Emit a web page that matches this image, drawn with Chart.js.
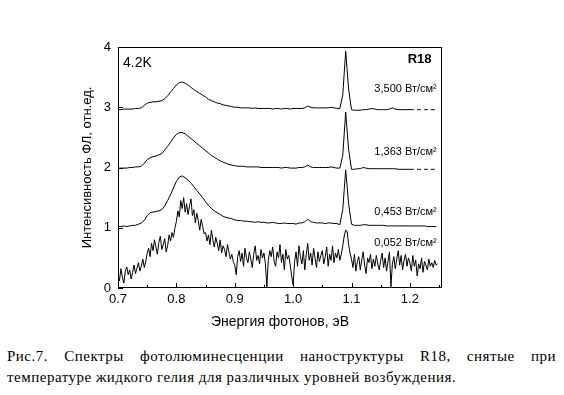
<!DOCTYPE html>
<html>
<head>
<meta charset="utf-8">
<script src="https://cdn.jsdelivr.net/npm/chart.js@4.4.1/dist/chart.umd.min.js"></script>
<style>
  body { margin: 0; background: #fff; width: 564px; height: 395px; position: relative; overflow: hidden; }
  #wrap { position: absolute; left: 0; top: 0; width: 564px; height: 340px; }
  #caption {
    position: absolute; left: 7px; top: 346px; width: 549px;
    font-family: "Liberation Serif", "Times New Roman", serif; font-size: 15px; line-height: 21px;
    text-align: justify; text-align-last: left; color: #000; letter-spacing: 0.5px;
  }
</style>
</head>
<body>
<div id="wrap"><canvas id="plChart" width="564" height="340"></canvas></div>
<div id="caption">Рис.7. Спектры фотолюминесценции наноструктуры R18, снятые при температуре жидкого гелия для различных уровней возбуждения.</div>
<script>
// Photoluminescence spectra, 4.2K, sample R18
// photon energy, eV (smooth spectra)
const energy = [
  0.700, 0.705, 0.710, 0.715, 0.720, 0.725, 0.730, 0.735, 0.740, 0.745,
  0.750, 0.755, 0.760, 0.765, 0.770, 0.775, 0.780, 0.785, 0.790, 0.795,
  0.800, 0.805, 0.810, 0.815, 0.820, 0.825, 0.830, 0.835, 0.840, 0.845,
  0.850, 0.855, 0.860, 0.865, 0.870, 0.875, 0.880, 0.885, 0.890, 0.895,
  0.900, 0.905, 0.910, 0.915, 0.920, 0.925, 0.930, 0.935, 0.940, 0.945,
  0.950, 0.955, 0.960, 0.965, 0.970, 0.975, 0.980, 0.985, 0.990, 0.995,
  1.000, 1.005, 1.010, 1.015, 1.020, 1.025, 1.030, 1.035, 1.040, 1.045,
  1.050, 1.055, 1.060, 1.065, 1.070, 1.075, 1.080, 1.085, 1.090, 1.095,
  1.100, 1.105, 1.110, 1.115, 1.120, 1.125, 1.130, 1.135, 1.140, 1.145,
  1.150, 1.155, 1.160, 1.165, 1.170, 1.175, 1.180, 1.185, 1.190, 1.195,
  1.200, 1.205, 1.210, 1.215, 1.220, 1.225, 1.230, 1.235, 1.240, 1.245
];

// photon energy, eV (finer step for the weakest, noisy spectrum)
const energyFine = [
  0.7000, 0.7025, 0.7050, 0.7075, 0.7100, 0.7125, 0.7150, 0.7175, 0.7200, 0.7225, 0.7250, 0.7275, 0.7300, 0.7325, 0.7350, 0.7375, 0.7400, 0.7425, 0.7450, 0.7475,
  0.7500, 0.7525, 0.7550, 0.7575, 0.7600, 0.7625, 0.7650, 0.7675, 0.7700, 0.7725, 0.7750, 0.7775, 0.7800, 0.7825, 0.7850, 0.7875, 0.7900, 0.7925, 0.7950, 0.7975,
  0.8000, 0.8025, 0.8050, 0.8075, 0.8100, 0.8125, 0.8150, 0.8175, 0.8200, 0.8225, 0.8250, 0.8275, 0.8300, 0.8325, 0.8350, 0.8375, 0.8400, 0.8425, 0.8450, 0.8475,
  0.8500, 0.8525, 0.8550, 0.8575, 0.8600, 0.8625, 0.8650, 0.8675, 0.8700, 0.8725, 0.8750, 0.8775, 0.8800, 0.8825, 0.8850, 0.8875, 0.8900, 0.8925, 0.8950, 0.8975,
  0.9000, 0.9025, 0.9050, 0.9075, 0.9100, 0.9125, 0.9150, 0.9175, 0.9200, 0.9225, 0.9250, 0.9275, 0.9300, 0.9325, 0.9350, 0.9375, 0.9400, 0.9425, 0.9450, 0.9475,
  0.9500, 0.9525, 0.9550, 0.9575, 0.9600, 0.9625, 0.9650, 0.9675, 0.9700, 0.9725, 0.9750, 0.9775, 0.9800, 0.9825, 0.9850, 0.9875, 0.9900, 0.9925, 0.9950, 0.9975,
  1.0000, 1.0025, 1.0050, 1.0075, 1.0100, 1.0125, 1.0150, 1.0175, 1.0200, 1.0225, 1.0250, 1.0275, 1.0300, 1.0325, 1.0350, 1.0375, 1.0400, 1.0425, 1.0450, 1.0475,
  1.0500, 1.0525, 1.0550, 1.0575, 1.0600, 1.0625, 1.0650, 1.0675, 1.0700, 1.0725, 1.0750, 1.0775, 1.0800, 1.0825, 1.0850, 1.0875, 1.0900, 1.0925, 1.0950, 1.0975,
  1.1000, 1.1025, 1.1050, 1.1075, 1.1100, 1.1125, 1.1150, 1.1175, 1.1200, 1.1225, 1.1250, 1.1275, 1.1300, 1.1325, 1.1350, 1.1375, 1.1400, 1.1425, 1.1450, 1.1475,
  1.1500, 1.1525, 1.1550, 1.1575, 1.1600, 1.1625, 1.1650, 1.1675, 1.1700, 1.1725, 1.1750, 1.1775, 1.1800, 1.1825, 1.1850, 1.1875, 1.1900, 1.1925, 1.1950, 1.1975,
  1.2000, 1.2025, 1.2050, 1.2075, 1.2100, 1.2125, 1.2150, 1.2175, 1.2200, 1.2225, 1.2250, 1.2275, 1.2300, 1.2325, 1.2350, 1.2375, 1.2400, 1.2425, 1.2450, 1.2475
];

// intensity (offset), 3,500 W/cm2
const pl3500 = [
  2.96, 2.96, 2.97, 2.97, 2.97, 2.97, 2.98, 2.98, 2.99, 3.03,
  3.07, 3.08, 3.09, 3.09, 3.10, 3.11, 3.14, 3.19, 3.25, 3.31,
  3.37, 3.41, 3.42, 3.40, 3.37, 3.33, 3.29, 3.26, 3.23, 3.20,
  3.17, 3.13, 3.11, 3.09, 3.07, 3.06, 3.04, 3.03, 3.02, 3.01,
  3.00, 3.00, 2.99, 2.99, 2.99, 2.99, 2.98, 2.99, 2.98, 2.98,
  2.98, 2.98, 2.98, 2.97, 2.98, 2.98, 2.97, 2.98, 2.98, 2.97,
  2.98, 2.98, 2.98, 2.98, 2.99, 3.02, 3.00, 2.99, 2.99, 2.99,
  2.99, 2.99, 2.99, 3.00, 2.99, 2.98, 2.98, 3.20, 3.93, 3.30,
  2.96, 2.95, 2.95, 2.95, 2.96, 2.96, 2.97, 2.98, 2.97, 2.96,
  2.96, 2.96, 2.96, 2.97, 2.99, 2.97, 2.96, 2.96, 2.96, 2.96,
  2.96, 2.96, 2.96, 2.96, 2.96, 2.96, 2.96, 2.96, 2.96, 2.96
];

// 1,363 W/cm2
const pl1363 = [
  1.99, 1.99, 1.99, 1.99, 2.00, 2.00, 2.01, 2.01, 2.02, 2.07,
  2.13, 2.16, 2.18, 2.19, 2.21, 2.23, 2.29, 2.35, 2.42, 2.49,
  2.55, 2.58, 2.58, 2.56, 2.52, 2.48, 2.44, 2.40, 2.36, 2.32,
  2.28, 2.24, 2.20, 2.17, 2.14, 2.11, 2.09, 2.07, 2.05, 2.04,
  2.03, 2.02, 2.02, 2.02, 2.01, 2.01, 2.01, 2.01, 2.01, 2.00,
  2.00, 2.00, 2.00, 2.00, 2.00, 2.00, 1.99, 2.00, 2.00, 1.99,
  1.99, 1.99, 2.00, 2.00, 2.01, 2.04, 2.01, 2.00, 2.00, 2.00,
  2.00, 2.00, 2.00, 2.01, 2.00, 1.99, 1.99, 2.20, 2.92, 2.30,
  1.97, 1.97, 1.98, 1.98, 2.00, 1.99, 1.98, 1.98, 1.98, 1.98,
  1.98, 1.98, 1.98, 1.98, 1.98, 1.98, 1.97, 1.97, 1.97, 1.97,
  1.97, 1.97, 1.97, 1.97, 1.97, 1.97, 1.97, 1.97, 1.97, 1.97
];

// 0,453 W/cm2
const pl453 = [
  1.02, 1.02, 1.03, 1.02, 1.03, 1.04, 1.04, 1.06, 1.08, 1.12,
  1.20, 1.25, 1.26, 1.27, 1.28, 1.30, 1.36, 1.45, 1.55, 1.66,
  1.77, 1.84, 1.86, 1.83, 1.79, 1.74, 1.68, 1.62, 1.56, 1.50,
  1.43, 1.37, 1.32, 1.28, 1.25, 1.22, 1.19, 1.17, 1.16, 1.15,
  1.13, 1.12, 1.12, 1.11, 1.11, 1.10, 1.10, 1.09, 1.10, 1.09,
  1.09, 1.08, 1.08, 1.09, 1.08, 1.07, 1.07, 1.08, 1.07, 1.07,
  1.07, 1.06, 1.08, 1.08, 1.10, 1.14, 1.10, 1.09, 1.08, 1.08,
  1.08, 1.07, 1.08, 1.08, 1.07, 1.07, 1.05, 1.30, 1.96, 1.40,
  1.06, 1.04, 1.04, 1.04, 1.05, 1.05, 1.04, 1.04, 1.04, 1.04,
  1.04, 1.04, 1.03, 1.03, 1.03, 1.03, 1.03, 1.03, 1.03, 1.03,
  1.03, 1.03, 1.03, 1.03, 1.03, 1.03, 1.02, 1.02, 1.02, 1.02
];

// 0,052 W/cm2 (noisy, on energyFine)
const pl052 = [
  0.20, 0.12, 0.32, 0.18, 0.08, 0.28, 0.35, 0.22, 0.30, 0.15, 0.26, 0.38, 0.24, 0.33, 0.42, 0.28, 0.36, 0.48, 0.34, 0.44,
  0.58, 0.66, 0.52, 0.74, 0.62, 0.80, 0.68, 0.56, 0.76, 0.86, 0.64, 0.72, 0.82, 0.60, 0.70, 0.88, 0.78, 0.92, 0.84, 1.00,
  1.10, 1.28, 1.18, 1.45, 1.32, 1.50, 1.26, 1.40, 1.22, 1.36, 1.48, 1.20, 1.30, 1.08, 1.24, 1.12, 0.96, 1.14, 1.02, 0.90,
  0.92, 0.78, 0.88, 0.72, 0.96, 0.80, 0.68, 0.84, 0.74, 0.62, 0.80, 0.58, 0.70, 0.64, 0.52, 0.72, 0.60, 0.48, 0.56, 0.44,
  0.38, 0.22, 0.52, 0.62, 0.44, 0.58, 0.36, 0.66, 0.50, 0.42, 0.60, 0.48, 0.34, 0.56, 0.70, 0.46, 0.54, 0.40, 0.64, 0.50,
  0.58, 0.40, 0.02, 0.46, 0.62, 0.52, 0.68, 0.44, 0.36, 0.60, 0.50, 0.72, 0.42, 0.56, 0.30, 0.64, 0.48, 0.54, 0.38, 0.20,
  0.05, 0.44, 0.60, 0.36, 0.70, 0.52, 0.40, 0.62, 0.30, 0.56, 0.74, 0.46, 0.58, 0.38, 0.66, 0.50, 0.34, 0.60, 0.44, 0.54,
  0.62, 0.40, 0.52, 0.68, 0.36, 0.56, 0.46, 0.70, 0.42, 0.58, 0.50, 0.64, 0.46, 0.56, 0.70, 0.86, 0.96, 0.94, 0.72, 0.58,
  0.48, 0.34, 0.56, 0.28, 0.44, 0.52, 0.30, 0.46, 0.60, 0.38, 0.24, 0.50, 0.42, 0.56, 0.32, 0.48, 0.36, 0.54, 0.40, 0.30,
  0.46, 0.58, 0.34, 0.50, 0.28, 0.44, 0.60, 0.02, 0.40, 0.52, 0.32, 0.48, 0.62, 0.38, 0.54, 0.30, 0.46, 0.56, 0.36, 0.50,
  0.42, 0.28, 0.54, 0.36, 0.46, 0.20, 0.40, 0.32, 0.50, 0.26, 0.44, 0.38, 0.30, 0.48, 0.36, 0.42, 0.34, 0.46, 0.38, 0.40
];

const powerLabels = ['3,500 Вт/см²', '1,363 Вт/см²', '0,453 Вт/см²', '0,052 Вт/см²'];
const xTicks = [0.7, 0.8, 0.9, 1.0, 1.1, 1.2];
const xMinorTicks = [0.75, 0.85, 0.95, 1.05, 1.15, 1.25];
const yTicks = [0, 1, 2, 3, 4];

Chart.defaults.font.family = '"Liberation Sans", Arial, sans-serif';
Chart.defaults.font.size = 12;
Chart.defaults.color = '#000';

function toPoints(grid, vals) {
  return vals.map((v, i) => ({ x: grid[i], y: v }));
}

const dashEnd = {
  borderDash: c => (c.p0.parsed.x >= 1.2 ? [4, 3] : undefined)
};

// box, inside ticks and text labels
const framePlugin = {
  id: 'frame',
  afterDatasetsDraw(chart) {
    const { ctx, chartArea: a, scales: { x, y } } = chart;
    ctx.save();
    ctx.strokeStyle = '#000';
    ctx.lineWidth = 1;
    ctx.strokeRect(a.left + 0.5, a.top + 0.5, a.right - a.left - 1, a.bottom - a.top - 1);
    ctx.beginPath();
    xTicks.forEach(v => {
      const p = Math.round(x.getPixelForValue(v)) + 0.5;
      ctx.moveTo(p, a.bottom); ctx.lineTo(p, a.bottom - 5);
    });
    xMinorTicks.forEach(v => {
      const p = Math.round(x.getPixelForValue(v)) + 0.5;
      ctx.moveTo(p, a.bottom); ctx.lineTo(p, a.bottom - 3);
    });
    yTicks.forEach(v => {
      const p = Math.round(y.getPixelForValue(v)) + 0.5;
      ctx.moveTo(a.left, p); ctx.lineTo(a.left + 5, p);
    });
    ctx.stroke();

    ctx.fillStyle = '#000';
    ctx.textBaseline = 'middle';
    ctx.font = '14px "Liberation Sans", Arial, sans-serif';
    ctx.textAlign = 'left';
    ctx.fillText('4.2K', a.left + 5, y.getPixelForValue(3.74));
    ctx.font = 'bold 13px "Liberation Sans", Arial, sans-serif';
    ctx.textAlign = 'right';
    ctx.fillText('R18', x.getPixelForValue(1.237), y.getPixelForValue(3.79));
    ctx.font = '11px "Liberation Sans", Arial, sans-serif';
    const labelY = [3.30, 2.26, 1.26, 0.75];
    powerLabels.forEach((t, i) => {
      ctx.fillText(t, x.getPixelForValue(1.246), y.getPixelForValue(labelY[i]));
    });
    ctx.restore();
  }
};

const ctx = document.getElementById('plChart').getContext('2d');
const plChart = new Chart(ctx, {
  type: 'line',
  data: {
    datasets: [
      { label: powerLabels[0], data: toPoints(energy, pl3500), segment: dashEnd },
      { label: powerLabels[1], data: toPoints(energy, pl1363), segment: dashEnd },
      { label: powerLabels[2], data: toPoints(energy, pl453) },
      { label: powerLabels[3], data: toPoints(energyFine, pl052) }
    ].map(d => Object.assign(d, {
      borderColor: '#000', borderWidth: 1, pointRadius: 0, tension: 0, fill: false
    }))
  },
  plugins: [framePlugin],
  options: {
    responsive: false,
    animation: false,
    devicePixelRatio: 1,
    layout: { padding: { left: 76, right: 122, top: 47, bottom: 0 } },
    plugins: { legend: { display: false }, tooltip: { enabled: false } },
    scales: {
      x: {
        type: 'linear',
        min: 0.7,
        max: 1.255,
        grid: { display: false, drawTicks: false },
        border: { display: false },
        afterBuildTicks: s => { s.ticks = xTicks.map(v => ({ value: v })); },
        afterFit: s => { s.height = 52; },
        ticks: { padding: 4, maxRotation: 0, callback: v => v.toFixed(1), font: { size: 13 } },
        title: { display: true, text: 'Энергия фотонов, эВ', padding: { top: 9, bottom: 9 }, font: { size: 14 } }
      },
      y: {
        min: 0,
        max: 4,
        grid: { display: false, drawTicks: false },
        border: { display: false },
        afterBuildTicks: s => { s.ticks = yTicks.map(v => ({ value: v })); },
        afterFit: s => { s.width = 42; },
        ticks: { padding: 7, font: { size: 13 } },
        title: { display: true, text: 'Интенсивность ФЛ, отн.ед.', padding: { top: 4, bottom: 4 }, font: { size: 13 } }
      }
    }
  }
});
</script>
</body>
</html>
